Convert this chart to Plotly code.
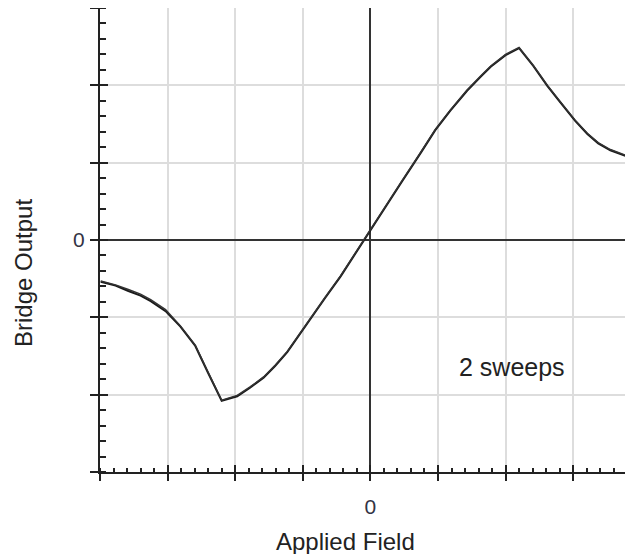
import plotly.graph_objects as go

# ---- data ----
field = [-3.99, -3.77, -3.58, -3.40, -3.25, -3.03, -2.81, -2.59, -2.40, -2.20,
         -1.97, -1.78, -1.58, -1.41, -1.23, -1.04, -0.86, -0.67, -0.44, -0.22,
         0.00, 0.22, 0.47, 0.74, 0.96, 1.18, 1.43, 1.63, 1.78, 2.00,
         2.20, 2.41, 2.62, 2.81, 3.03, 3.21, 3.37, 3.55, 3.73, 3.89]
sweep1 = [-0.54, -0.59, -0.66, -0.72, -0.79, -0.92, -1.12, -1.37, -1.72, -2.08,
          -2.02, -1.91, -1.78, -1.63, -1.45, -1.21, -0.99, -0.75, -0.47, -0.17,
          0.13, 0.43, 0.76, 1.12, 1.42, 1.67, 1.93, 2.11, 2.24, 2.39,
          2.48, 2.25, 1.99, 1.78, 1.54, 1.37, 1.25, 1.16, 1.10, 1.05]
sweep2 = [-0.53, -0.58, -0.64, -0.70, -0.77, -0.90, -1.11, -1.36, -1.71, -2.07,
          -2.01, -1.90, -1.77, -1.62, -1.44, -1.20, -0.98, -0.74, -0.46, -0.16,
          0.14, 0.44, 0.77, 1.13, 1.43, 1.68, 1.94, 2.12, 2.25, 2.40,
          2.49, 2.26, 2.00, 1.79, 1.55, 1.38, 1.26, 1.17, 1.11, 1.06]

x_ticks = [-4, -3, -2, -1, 0, 1, 2, 3]
x_ticktext = ["", "", "", "", "0", "", "", ""]
y_ticks = [-3, -2, -1, 0, 1, 2, 3]
y_ticktext = ["", "", "", "0", "", "", ""]

x_range = [-4, 3.885]
y_range = [-3, 3]

FONT = "Arial, Liberation Sans, sans-serif"
INK = "#222222"
GRID = "#dddddd"

fig = go.Figure()
fig.add_trace(go.Scatter(x=field, y=sweep1, mode="lines",
                         line=dict(color="#1a1a1a", width=2.0), showlegend=False,
                         hoverinfo="skip"))
fig.add_trace(go.Scatter(x=field, y=sweep2, mode="lines", xaxis="x2", yaxis="y2",
                         line=dict(color="#333333", width=1.4), showlegend=False,
                         hoverinfo="skip"))

# the page body has an 8px margin, so the figure is shrunk by 8px on each axis
fig.update_layout(
    width=625, height=546,
    margin=dict(l=92, r=0, t=0, b=82),
    paper_bgcolor="white", plot_bgcolor="white",
    font=dict(family=FONT, color=INK),
    xaxis=dict(
        range=x_range, tickmode="array", tickvals=x_ticks, ticktext=x_ticktext,
        ticks="outside", ticklen=7, tickwidth=1.5, tickcolor=INK,
        tickfont=dict(size=21, color="#333344"), ticklabelstandoff=8,
        showgrid=True, gridcolor=GRID, gridwidth=1.5,
        zeroline=True, zerolinecolor="#333333", zerolinewidth=1.5,
        showline=True, linecolor=INK, linewidth=2,
        minor=dict(dtick=0.2, tick0=0, ticks="inside", ticklen=4,
                   tickwidth=1.5, tickcolor=INK, showgrid=False),
        fixedrange=True,
    ),
    yaxis=dict(
        range=y_range, tickmode="array", tickvals=y_ticks, ticktext=y_ticktext,
        ticks="outside", ticklen=8, tickwidth=1.5, tickcolor=INK,
        tickfont=dict(size=21, color="#333344"), ticklabelstandoff=1,
        showgrid=True, gridcolor=GRID, gridwidth=1.5,
        zeroline=True, zerolinecolor="#333333", zerolinewidth=1.5,
        showline=True, linecolor=INK, linewidth=2,
        minor=dict(dtick=0.2, tick0=0, ticks="inside", ticklen=6,
                   tickwidth=1.5, tickcolor=INK, showgrid=False),
        fixedrange=True,
    ),
    xaxis2=dict(
        range=x_range, overlaying="x", anchor="y2", tickmode="array",
        tickvals=x_ticks, ticks="inside", ticklen=7, tickwidth=1.5,
        tickcolor=INK, showticklabels=False, showgrid=False, zeroline=False,
        showline=False, fixedrange=True,
    ),
    yaxis2=dict(
        range=y_range, overlaying="y", anchor="x2", side="left", tickmode="array",
        tickvals=y_ticks, ticks="inside", ticklen=8, tickwidth=1.5,
        tickcolor=INK, showticklabels=False, showgrid=False, zeroline=False,
        showline=False, fixedrange=True,
    ),
    annotations=[
        dict(text="Applied Field", xref="paper", yref="paper", x=0.4615, y=-0.149,
             xanchor="center", yanchor="middle", showarrow=False,
             font=dict(size=24, family=FONT, color=INK)),
        dict(text="Bridge Output", xref="paper", yref="paper", x=-0.1426, y=0.4289,
             xanchor="center", yanchor="middle", textangle=-90, showarrow=False,
             font=dict(size=24, family=FONT, color=INK)),
        dict(text="2 sweeps", xref="x", yref="y", x=2.09, y=-1.64,
             xanchor="center", yanchor="middle", showarrow=False,
             font=dict(size=25, family=FONT, color=INK)),
    ],
)

fig.write_html("out.html")
